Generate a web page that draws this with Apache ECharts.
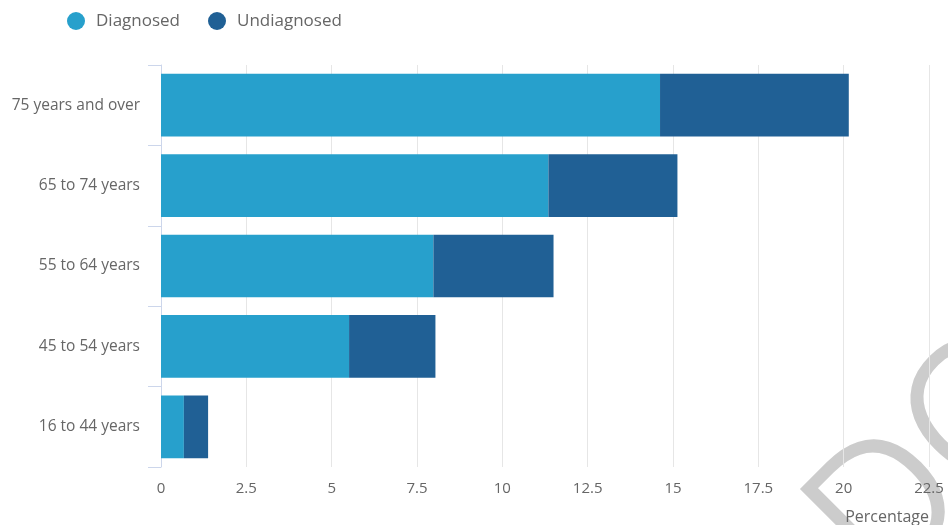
<!DOCTYPE html>
<html>
<head>
<meta charset="utf-8">
<script src="https://cdn.jsdelivr.net/npm/echarts@6/dist/echarts.min.js"></script>
<style>
  html, body { margin: 0; padding: 0; background: #fff; }
  #chart { width: 948px; height: 525px; }
</style>
</head>
<body>
<div id="chart"></div>
<script>
// age groups, bottom to top
var ageGroups = ["16 to 44 years", "45 to 54 years", "55 to 64 years", "65 to 74 years", "75 years and over"];
var diagnosed = [0.67, 5.51, 7.98, 11.35, 14.62];
var undiagnosed = [0.71, 2.53, 3.52, 3.78, 5.53];
var xTicks = { min: 0, max: 22.5, step: 2.5 };

var chart = echarts.init(document.getElementById("chart"));
var font = "'Open Sans', sans-serif";

var option = {
  animation: false,
  textStyle: { fontFamily: font },
  legend: {
    left: 62,
    top: 7,
    icon: "circle",
    itemWidth: 18,
    itemHeight: 18,
    itemGap: 28,
    textStyle: { fontSize: 17, color: "#666", fontFamily: font, padding: [0, 0, 0, 6] },
    data: ["Diagnosed", "Undiagnosed"]
  },
  // watermark, mostly cut off at the edge
  graphic: [{
    type: "text",
    x: 810,
    y: 480,
    rotation: Math.PI / 4,
    z: -10,
    silent: true,
    style: {
      text: "DO",
      x: -30,
      y: -12,
      font: "300 185px 'Open Sans', sans-serif",
      fill: "#cccccc",
      stroke: "#cccccc",
      lineWidth: 4,
      textAlign: "left",
      textVerticalAlign: "top"
    }
  }],
  grid: { left: 161, right: 19, top: 65, bottom: 58 },
  xAxis: {
    type: "value",
    min: xTicks.min,
    max: xTicks.max,
    interval: xTicks.step,
    name: "Percentage",
    nameLocation: "end",
    nameGap: 0,
    nameTextStyle: {
      color: "#666",
      fontSize: 16,
      fontFamily: font,
      align: "right",
      verticalAlign: "top",
      padding: [42, 0, 0, 0]
    },
    axisLine: { show: false },
    axisTick: { show: false },
    axisLabel: { color: "#666", fontSize: 15, margin: 14, fontFamily: font },
    splitLine: { lineStyle: { color: "#e6e6e6" } }
  },
  yAxis: {
    type: "category",
    data: ageGroups,
    axisLine: { show: true, lineStyle: { color: "#ccd6eb" } },
    axisTick: { show: true, length: 13, lineStyle: { color: "#ccd6eb" } },
    axisLabel: { color: "#666", fontSize: 15.5, margin: 21, fontFamily: font }
  },
  series: [
    {
      name: "Diagnosed",
      type: "bar",
      stack: "total",
      data: diagnosed,
      barCategoryGap: "22%",
      itemStyle: { color: "#27a0cc" }
    },
    {
      name: "Undiagnosed",
      type: "bar",
      stack: "total",
      data: undiagnosed,
      barCategoryGap: "22%",
      itemStyle: { color: "#206095" }
    }
  ]
};

chart.setOption(option);
</script>
</body>
</html>
